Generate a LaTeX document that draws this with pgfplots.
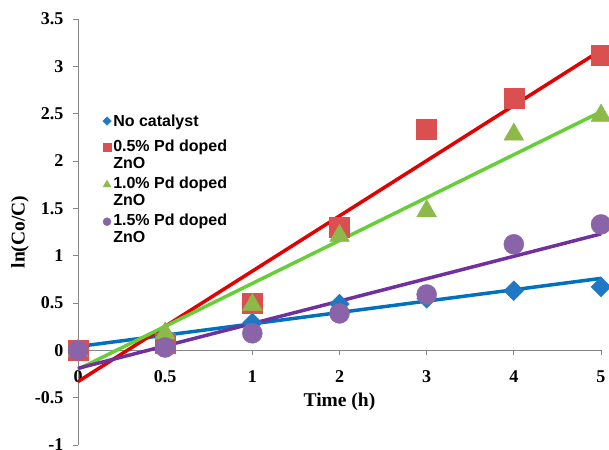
\documentclass[border=0pt]{standalone}
\usepackage{pgfplots}
\pgfplotsset{compat=1.18}
\usepackage{fontspec}
\setmainfont{Liberation Serif}
\newfontfamily\legfont{Liberation Sans}
\definecolor{axgray}{RGB}{134,134,134}
\definecolor{mblue}{RGB}{30,120,195}
\definecolor{lblue}{RGB}{0,112,192}
\definecolor{mred}{RGB}{218,80,80}
\definecolor{lred}{RGB}{226,0,0}
\definecolor{mgreen}{RGB}{141,184,74}
\definecolor{lgreen}{RGB}{102,206,55}
\definecolor{mpurple}{RGB}{138,100,168}
\definecolor{lpurple}{RGB}{112,48,160}
\begin{document}
\begin{tikzpicture}
\useasboundingbox (0bp,0bp) rectangle (609bp,450bp);
\begin{axis}[
  at={(78bp,5bp)}, anchor=south west,
  scale only axis, width=523bp, height=426bp,
  xmin=0, xmax=6, ymin=-1, ymax=3.5,
  axis x line*=middle, axis y line*=left,
  axis line style={draw=axgray, line width=0.8bp},
  hide obscured x ticks=false, hide obscured y ticks=false,
  xtick={0,1,2,3,4,5,6},
  xticklabels={0,0.5,1,2,3,4,5},
  ytick={-1,-0.5,0,0.5,1,1.5,2,2.5,3,3.5},
  yticklabels={-1,-0.5,0,0.5,1,1.5,2,2.5,3,3.5},
  tick align=outside,
  major tick length=5bp,
  tick style={draw=axgray, line width=0.8bp},
  ticklabel style={font=\bfseries\fontsize{18bp}{20bp}\selectfont},
  yticklabel style={xshift=-6bp},
  xticklabel style={yshift=-12bp},
  xlabel={Time (h)}, ylabel={ln(Co/C)},
  label style={font=\bfseries\fontsize{19.5bp}{22bp}\selectfont},
  x label style={at={(axis description cs:0.5,0.101)}, anchor=center},
  y label style={at={(axis description cs:-0.111,0.5)}, anchor=center},
  clip=false,
  legend style={at={(axis description cs:0.047,0.781)}, anchor=north west, draw=none, fill=none,
    font=\legfont\bfseries\fontsize{16bp}{17bp}\selectfont, row sep=3bp, inner sep=0pt,
    cells={align=left}},
  legend cell align=left,
  legend image code/.code={\draw[#1] plot coordinates {(0bp,0bp)};},
]
% data markers
\addplot[color=mblue, only marks, mark=square*, mark size=7bp, mark options={rotate=45, fill=mblue, draw=none}, forget plot]
  coordinates {(0,0)(1,0.15)(2,0.29)(3,0.49)(4,0.55)(5,0.63)(6,0.67)};
\addplot[color=mred, only marks, mark=square*, mark size=10bp, mark options={fill=mred, draw=none}, forget plot]
  coordinates {(0,0)(1,0.08)(2,0.5)(3,1.3)(4,2.34)(5,2.66)(6,3.12)};
\addplot[color=mgreen, only marks, mark=triangle*, mark size=11.5bp, mark options={fill=mgreen, draw=none}, forget plot]
  coordinates {(0,0)(1,0.18)(2,0.48)(3,1.21)(4,1.47)(5,2.28)(6,2.48)};
\addplot[color=mpurple, only marks, mark=*, mark size=10bp, mark options={fill=mpurple, draw=none}, forget plot]
  coordinates {(0,0)(1,0.03)(2,0.18)(3,0.39)(4,0.59)(5,1.12)(6,1.33)};
% linear trend lines
\addplot[lblue, line width=3.5bp, no marks, forget plot] coordinates {(0,0.04)(6,0.76)};
\addplot[lred, line width=3.5bp, no marks, forget plot] coordinates {(0,-0.33)(6,3.17)};
\addplot[lgreen, line width=3.5bp, no marks, forget plot] coordinates {(0,-0.2)(6,2.52)};
\addplot[lpurple, line width=3.5bp, no marks, forget plot] coordinates {(0,-0.19)(6,1.23)};
% legend
\addlegendimage{color=mblue, only marks, mark=square*, mark size=3bp, mark options={rotate=45, fill=mblue, draw=none}, yshift=2.5bp}
\addlegendentry{No catalyst\\[-12bp]\mbox{}}
\addlegendimage{color=mred, only marks, mark=square*, mark size=4bp, mark options={fill=mred, draw=none}, yshift=7bp}
\addlegendentry{0.5\% Pd doped\\ZnO}
\addlegendimage{color=mgreen, only marks, mark=triangle*, mark size=4.5bp, mark options={fill=mgreen, draw=none}, yshift=7bp}
\addlegendentry{1.0\% Pd doped\\ZnO}
\addlegendimage{color=mpurple, only marks, mark=*, mark size=4bp, mark options={fill=mpurple, draw=none}, yshift=7bp}
\addlegendentry{1.5\% Pd doped\\ZnO}
\end{axis}
\end{tikzpicture}
\end{document}
